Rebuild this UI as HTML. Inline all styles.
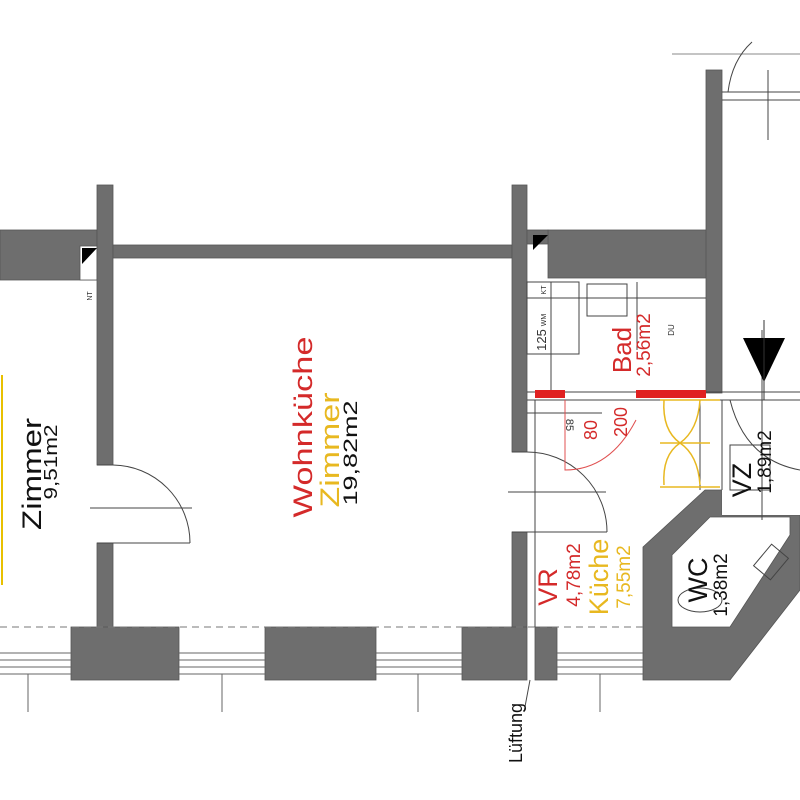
<!DOCTYPE html>
<html><head><meta charset="utf-8"><style>
html,body{margin:0;padding:0;background:#fff;width:800px;height:800px;overflow:hidden}
svg{display:block}
text{font-family:"Liberation Sans",sans-serif}
</style></head><body>
<svg width="800" height="800" viewBox="0 0 800 800" xmlns="http://www.w3.org/2000/svg">
<g fill="#6e6e6e" stroke="#555" stroke-width="0.8">
<rect x="0" y="230" width="97" height="50"/>
<rect x="80" y="246" width="17" height="34" fill="#fff"/>
<rect x="97" y="185" width="16" height="280"/>
<rect x="97" y="543" width="16" height="85"/>
<rect x="113" y="245" width="399" height="13"/>
<rect x="512" y="185" width="15" height="267"/>
<rect x="512" y="532" width="15" height="96"/>
<rect x="548" y="230" width="160" height="48"/>
<rect x="527" y="230" width="21" height="14"/>
<rect x="706" y="70" width="16" height="323"/>
<rect x="71" y="627" width="108" height="53"/>
<rect x="265" y="627" width="111" height="53"/>
<rect x="462" y="627" width="65" height="53"/>
<rect x="535" y="627" width="22" height="53"/>
<polygon points="643,547 705,490 722,490 722,515 800,515 800,590 730,680 643,680"/>
</g>
<polygon points="672,555 710,517 790,517 790,535 730,627 672,627" fill="#fff" stroke="#555" stroke-width="0.8"/>
<rect x="722" y="490" width="78" height="25" fill="#fff"/>
<polygon points="82,248 97,248 82,264" fill="#000"/>
<polygon points="533,235 548,235 533,250" fill="#000"/>
<g fill="none" stroke="#444" stroke-width="1">
<line x1="672" y1="54" x2="800" y2="54" stroke="#888"/>
<path d="M728 92 Q732 60 752 42"/>
<line x1="722" y1="92" x2="800" y2="92"/>
<line x1="722" y1="100" x2="800" y2="100"/>
<line x1="768" y1="70" x2="768" y2="140"/>
<line x1="0" y1="627" x2="643" y2="627" stroke-dasharray="7,5" stroke="#777"/>
<g stroke="#666">
<line x1="0" y1="653" x2="71" y2="653"/><line x1="0" y1="660" x2="71" y2="660"/><line x1="0" y1="667" x2="71" y2="667"/><line x1="0" y1="674" x2="71" y2="674"/>
<line x1="179" y1="653" x2="265" y2="653"/><line x1="179" y1="660" x2="265" y2="660"/><line x1="179" y1="667" x2="265" y2="667"/><line x1="179" y1="674" x2="265" y2="674"/>
<line x1="376" y1="653" x2="462" y2="653"/><line x1="376" y1="660" x2="462" y2="660"/><line x1="376" y1="667" x2="462" y2="667"/><line x1="376" y1="674" x2="462" y2="674"/>
<line x1="557" y1="653" x2="643" y2="653"/><line x1="557" y1="660" x2="643" y2="660"/><line x1="557" y1="667" x2="643" y2="667"/><line x1="557" y1="674" x2="643" y2="674"/>
<line x1="28" y1="674" x2="28" y2="712"/><line x1="222" y1="674" x2="222" y2="712"/><line x1="418" y1="674" x2="418" y2="712"/><line x1="600" y1="674" x2="600" y2="712"/>
</g>
<line x1="530" y1="680" x2="524" y2="712"/>
<path d="M113 465 A78 78 0 0 1 190 543"/>
<line x1="97" y1="465" x2="113" y2="465"/><line x1="97" y1="543" x2="190" y2="543"/>
<line x1="90" y1="508" x2="192" y2="508"/>
<path d="M527 452 A80 80 0 0 1 607 532"/>
<line x1="512" y1="452" x2="527" y2="452"/><line x1="512" y1="532" x2="607" y2="532"/>
<line x1="508" y1="492" x2="606" y2="492"/>
<line x1="535" y1="400" x2="535" y2="627"/>
<rect x="527" y="282" width="52" height="72"/>
<line x1="527" y1="298" x2="706" y2="298"/>
<rect x="587" y="284" width="40" height="32"/>
<line x1="637" y1="282" x2="637" y2="350"/>
<line x1="551" y1="282" x2="551" y2="392"/>
<line x1="527" y1="392" x2="800" y2="392"/>
<line x1="527" y1="400" x2="800" y2="400"/>
<line x1="527" y1="413" x2="602" y2="413"/>
<line x1="700" y1="400" x2="700" y2="490"/>
<line x1="722" y1="400" x2="722" y2="490"/>
<line x1="762" y1="330" x2="762" y2="520"/>
<path d="M730 400 Q745 460 800 470"/>
<rect x="730" y="445" width="40" height="45"/>
<rect x="760" y="548" width="22" height="28" transform="rotate(40 771 562)"/>
<ellipse cx="700" cy="600" rx="22" ry="12"/>
</g>
<rect x="535" y="390" width="30" height="8" fill="#e02020"/>
<rect x="636" y="390" width="70" height="8" fill="#e02020"/>
<path d="M565 400 L565 470 Q610 470 636 420" fill="none" stroke="#e05050" stroke-width="1"/>
<g fill="none" stroke="#e8b820" stroke-width="1.5">
<path d="M664 400 Q662 430 680 443 Q698 430 700 400"/>
<path d="M664 485 Q662 455 680 443 Q698 455 700 485"/>
<line x1="660" y1="443" x2="710" y2="443"/>
<line x1="660" y1="400" x2="720" y2="400"/><line x1="660" y1="487" x2="720" y2="487"/>
</g>
<line x1="2" y1="375" x2="2" y2="585" stroke="#e8c000" stroke-width="2"/>
<polygon points="743,338 785,338 764,382" fill="#000"/>
<line x1="764" y1="320" x2="764" y2="400" stroke="#333"/>
<g text-anchor="middle" lengthAdjust="spacingAndGlyphs">
<text transform="translate(41,474) rotate(-90)" font-size="27" fill="#111" textLength="112" lengthAdjust="spacingAndGlyphs">Zimmer</text>
<text transform="translate(57,462) rotate(-90)" font-size="18" fill="#111" textLength="75" lengthAdjust="spacingAndGlyphs">9,51m2</text>
<text transform="translate(312,427) rotate(-90)" font-size="27" fill="#d42a2a" textLength="181" lengthAdjust="spacingAndGlyphs">Wohnküche</text>
<text transform="translate(339,450) rotate(-90)" font-size="27" fill="#e8b820" textLength="115" lengthAdjust="spacingAndGlyphs">Zimmer</text>
<text transform="translate(357,453) rotate(-90)" font-size="19" fill="#111" textLength="105" lengthAdjust="spacingAndGlyphs">19,82m2</text>
<text transform="translate(631,350) rotate(-90)" font-size="26" fill="#d42a2a">Bad</text>
<text transform="translate(650,345) rotate(-90)" font-size="19" fill="#d42a2a">2,56m2</text>
<text transform="translate(674,330) rotate(-90)" font-size="8" fill="#333">DU</text>
<text transform="translate(546,340) rotate(-90)" font-size="13" fill="#333">125</text>
<text transform="translate(566,425) rotate(90)" font-size="11" fill="#333">85</text>
<text transform="translate(597,430) rotate(-90)" font-size="18" fill="#d42a2a">80</text>
<text transform="translate(627,422) rotate(-90)" font-size="18" fill="#d42a2a">200</text>
<text transform="translate(557,587) rotate(-90)" font-size="27" fill="#d42a2a">VR</text>
<text transform="translate(580,575) rotate(-90)" font-size="19" fill="#d42a2a">4,78m2</text>
<text transform="translate(608,577) rotate(-90)" font-size="27" fill="#e8b820">Küche</text>
<text transform="translate(630,577) rotate(-90)" font-size="19" fill="#e8b820">7,55m2</text>
<text transform="translate(751,480) rotate(-90)" font-size="27" fill="#111">VZ</text>
<text transform="translate(771,462) rotate(-90)" font-size="19" fill="#111">1,89m2</text>
<text transform="translate(707,580) rotate(-90)" font-size="27" fill="#111">WC</text>
<text transform="translate(727,585) rotate(-90)" font-size="19" fill="#111">1,38m2</text>
<text transform="translate(522,733) rotate(-90)" font-size="18" fill="#111">Lüftung</text>
<text transform="translate(92,296) rotate(-90)" font-size="7" fill="#333">NT</text>
<text transform="translate(546,290) rotate(-90)" font-size="7" fill="#333">KT</text>
<text transform="translate(546,320) rotate(-90)" font-size="7" fill="#333">WM</text>
</g>
</svg>
</body></html>
